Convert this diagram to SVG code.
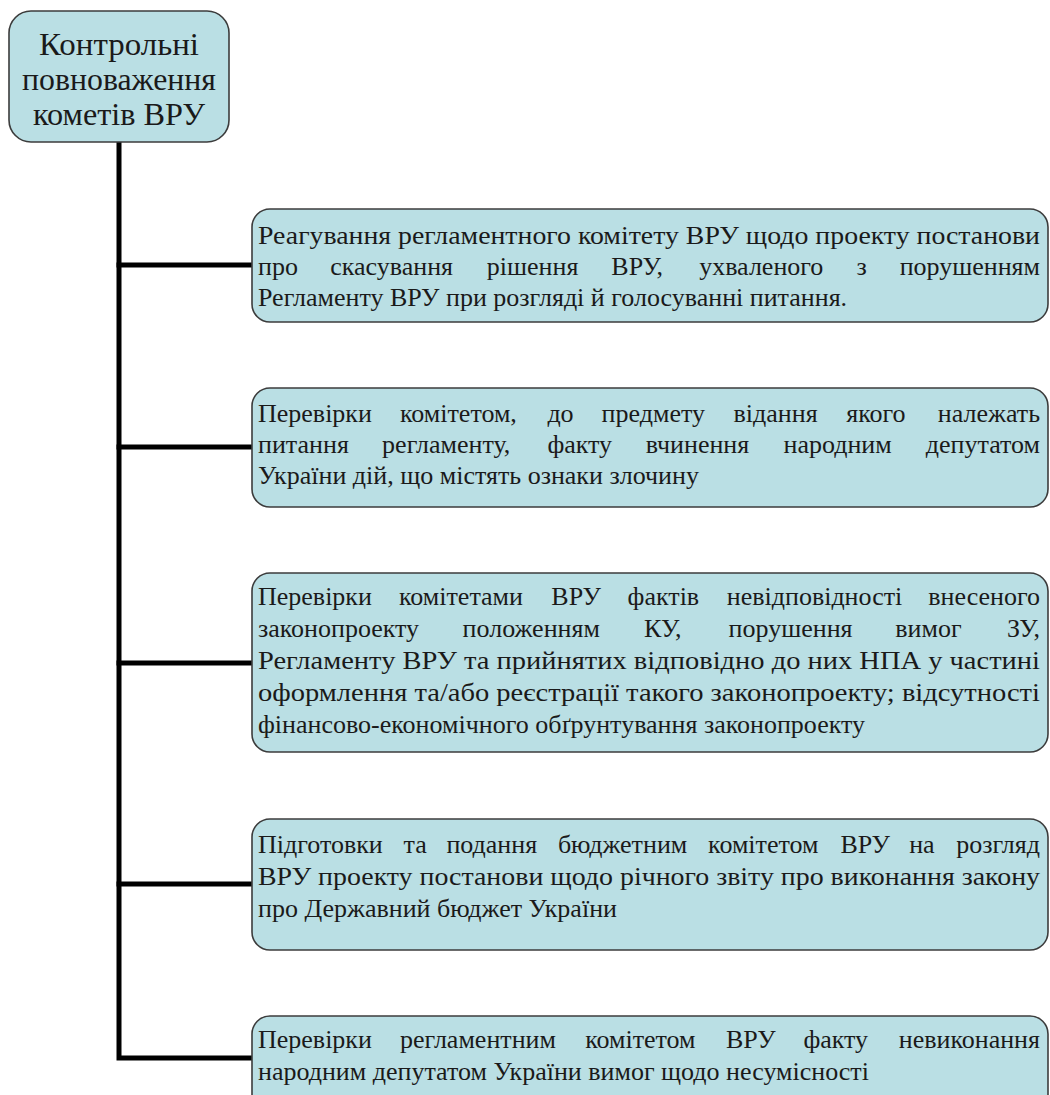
<svg xmlns="http://www.w3.org/2000/svg" width="1050" height="1095" viewBox="0 0 1050 1095">
<style>
.box{fill:#badfe4;stroke:#3c3c3c;stroke-width:1.6}
.t{font-family:"Liberation Serif","Times New Roman",serif;font-size:26px;fill:#1a1a1a}
.tt{font-family:"Liberation Serif","Times New Roman",serif;font-size:32px;fill:#1a1a1a;text-anchor:middle}
.c{stroke:#000;stroke-width:5;fill:none;stroke-linejoin:miter;stroke-linecap:square}
</style>
<rect width="1050" height="1095" fill="#fff"/>
<g id="connectors">
<path class="c" d="M119,142 V1058 H250"/>
<path class="c" d="M119,265 H250"/>
<path class="c" d="M119,447 H250"/>
<path class="c" d="M119,663 H250"/>
<path class="c" d="M119,884 H250"/>
</g>
<g id="root">
<rect class="box" x="9" y="11" width="220" height="131" rx="22"/>
<text class="tt" x="119" y="55" textLength="160" lengthAdjust="spacingAndGlyphs">Контрольні</text>
<text class="tt" x="119" y="90" textLength="194" lengthAdjust="spacingAndGlyphs">повноваження</text>
<text class="tt" x="119" y="125" textLength="172" lengthAdjust="spacingAndGlyphs">кометів ВРУ</text>
</g>
<g id="n1">
<rect class="box" x="252" y="209" width="796" height="113" rx="18"/>
<text class="t" x="258" y="244" textLength="782" lengthAdjust="spacingAndGlyphs">Реагування регламентного комітету ВРУ щодо проекту постанови</text>
<text class="t" y="275"><tspan x="258">про</tspan><tspan x="330.3">скасування</tspan><tspan x="486.8">рішення</tspan><tspan x="611.3">ВРУ,</tspan><tspan x="699.2">ухваленого</tspan><tspan x="856.5">з</tspan><tspan x="1040" text-anchor="end">порушенням</tspan></text>
<text class="t" x="258" y="306">Регламенту ВРУ при розгляді й голосуванні питання.</text>
</g>
<g id="n2">
<rect class="box" x="252" y="388" width="796" height="119" rx="18"/>
<text class="t" y="422"><tspan x="258">Перевірки</tspan><tspan x="400">комітетом,</tspan><tspan x="547.4">до</tspan><tspan x="601.6">предмету</tspan><tspan x="733.6">відання</tspan><tspan x="846.2">якого</tspan><tspan x="1040" text-anchor="end">належать</tspan></text>
<text class="t" y="453"><tspan x="258">питання</tspan><tspan x="382.1">регламенту,</tspan><tspan x="547.4">факту</tspan><tspan x="645.7">вчинення</tspan><tspan x="783.5">народним</tspan><tspan x="1040" text-anchor="end">депутатом</tspan></text>
<text class="t" x="258" y="484">України дій, що містять ознаки злочину</text>
</g>
<g id="n3">
<rect class="box" x="252" y="573" width="796" height="179" rx="18"/>
<text class="t" y="605"><tspan x="258">Перевірки</tspan><tspan x="399">комітетами</tspan><tspan x="551.3">ВРУ</tspan><tspan x="627.6">фактів</tspan><tspan x="726.8">невідповідності</tspan><tspan x="1040" text-anchor="end">внесеного</tspan></text>
<text class="t" y="637"><tspan x="258">законопроекту</tspan><tspan x="462.6">положенням</tspan><tspan x="644.1">КУ,</tspan><tspan x="728.6">порушення</tspan><tspan x="895.3">вимог</tspan><tspan x="1040" text-anchor="end">ЗУ,</tspan></text>
<text class="t" x="258" y="669" textLength="782" lengthAdjust="spacingAndGlyphs">Регламенту ВРУ та прийнятих відповідно до них НПА у частині</text>
<text class="t" x="258" y="701" textLength="782" lengthAdjust="spacingAndGlyphs">оформлення та/або реєстрації такого законопроекту; відсутності</text>
<text class="t" x="258" y="733">фінансово-економічного обґрунтування законопроекту</text>
</g>
<g id="n4">
<rect class="box" x="252" y="819" width="796" height="131" rx="18"/>
<text class="t" y="853"><tspan x="258">Підготовки</tspan><tspan x="403.6">та</tspan><tspan x="446.4">подання</tspan><tspan x="557.9">бюджетним</tspan><tspan x="708.1">комітетом</tspan><tspan x="840.4">ВРУ</tspan><tspan x="909.2">на</tspan><tspan x="1040" text-anchor="end">розгляд</tspan></text>
<text class="t" x="258" y="885" textLength="782" lengthAdjust="spacingAndGlyphs">ВРУ проекту постанови щодо річного звіту про виконання закону</text>
<text class="t" x="258" y="917">про Державний бюджет України</text>
</g>
<g id="n5">
<rect class="box" x="252" y="1016" width="796" height="100" rx="18"/>
<text class="t" y="1048"><tspan x="258">Перевірки</tspan><tspan x="400">регламентним</tspan><tspan x="585.2">комітетом</tspan><tspan x="726">ВРУ</tspan><tspan x="803.4">факту</tspan><tspan x="1040" text-anchor="end">невиконання</tspan></text>
<text class="t" x="258" y="1080">народним депутатом України вимог щодо несумісності</text>
</g>
</svg>
